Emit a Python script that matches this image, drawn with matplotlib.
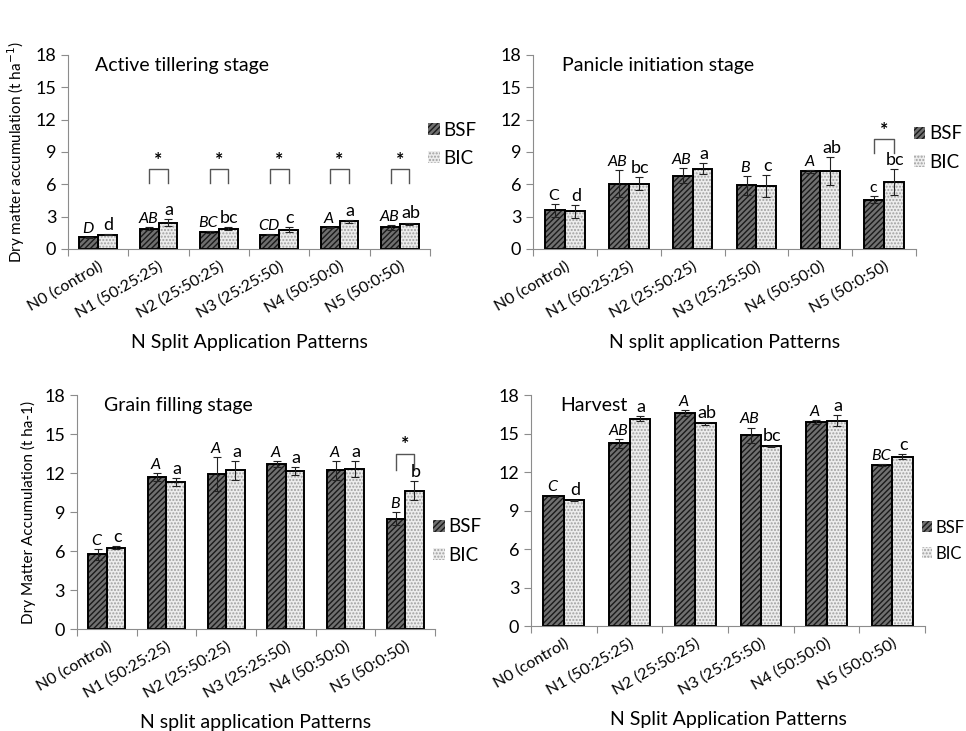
import numpy as np
import matplotlib
matplotlib.use("Agg")
import matplotlib.pyplot as plt
from matplotlib.ticker import FixedLocator, NullFormatter

plt.rcParams['font.family'] = ['Lato', 'DejaVu Sans']

patterns = ['N0 (control)', 'N1 (50:25:25)', 'N2 (25:50:25)',
            'N3 (25:25:50)', 'N4 (50:50:0)', 'N5 (50:0:50)']

# Active tillering stage
at_bsf = [1.08, 1.90, 1.57, 1.33, 2.00, 2.00]
at_bsf_err = [0.05, 0.10, 0.08, 0.05, 0.05, 0.25]
at_bic = [1.33, 2.45, 1.90, 1.80, 2.55, 2.35]
at_bic_err = [0.05, 0.30, 0.15, 0.20, 0.10, 0.10]
at_bsf_let = ['D', 'AB', 'BC', 'CD', 'A', 'AB']
at_bic_let = ['d', 'a', 'bc', 'c', 'a', 'ab']
at_sig = [None, 6.1, 6.1, 6.1, 6.1, 6.1]

# Panicle initiation stage
pi_bsf = [3.58, 6.05, 6.80, 5.90, 7.20, 4.57]
pi_bsf_err = [0.60, 1.25, 0.70, 0.85, 0.15, 0.30]
pi_bic = [3.50, 6.05, 7.45, 5.85, 7.20, 6.20]
pi_bic_err = [0.60, 0.60, 0.50, 1.00, 1.30, 1.20]
pi_bsf_let = ['C', 'AB', 'AB', 'B', 'A', 'c']
pi_bic_let = ['d', 'bc', 'a', 'c', 'ab', 'bc']
pi_sig = [None, None, None, None, None, 8.9]

# Grain filling stage
gf_bsf = [5.74, 11.70, 11.90, 12.70, 12.20, 8.50]
gf_bsf_err = [0.40, 0.30, 1.30, 0.20, 0.70, 0.50]
gf_bic = [6.26, 11.28, 12.20, 12.15, 12.30, 10.65]
gf_bic_err = [0.10, 0.30, 0.70, 0.30, 0.60, 0.70]
gf_bsf_let = ['C', 'A', 'A', 'A', 'A', 'B']
gf_bic_let = ['c', 'a', 'a', 'a', 'a', 'b']
gf_sig = [None, None, None, None, None, 12.2]

# Harvest
hv_bsf = [10.10, 14.23, 16.60, 14.85, 15.90, 12.54]
hv_bsf_err = [0.05, 0.35, 0.20, 0.60, 0.15, 0.05]
hv_bic = [9.80, 16.15, 15.80, 14.00, 16.00, 13.20]
hv_bic_err = [0.05, 0.20, 0.10, 0.05, 0.45, 0.20]
hv_bsf_let = ['C', 'AB', 'A', 'AB', 'A', 'BC']
hv_bic_let = ['d', 'a', 'ab', 'bc', 'a', 'c']
hv_sig = [None, None, None, None, None, None]

panels = [
    dict(pos=[0.0704, 0.6594, 0.3748, 0.2654], title='Active tillering stage',
         ylabel='Dry matter accumulation (t ha$^{-1}$)',
         xlabel='N Split Application Patterns', leg_y=0.54, leg_fs=13.5,
         bsf=at_bsf, bsf_err=at_bsf_err, bic=at_bic, bic_err=at_bic_err,
         bsf_let=at_bsf_let, bic_let=at_bic_let, sig=at_sig,
         upright=[]),
    dict(pos=[0.5518, 0.6594, 0.3965, 0.2654], title='Panicle initiation stage',
         ylabel=None, xlabel='N split application Patterns', leg_y=0.52,
         leg_fs=13.5,
         bsf=pi_bsf, bsf_err=pi_bsf_err, bic=pi_bic, bic_err=pi_bic_err,
         bsf_let=pi_bsf_let, bic_let=pi_bic_let, sig=pi_sig,
         upright=[0, 5]),
    dict(pos=[0.0797, 0.1395, 0.3706, 0.3201], title='Grain filling stage',
         ylabel='Dry Matter Accumulation (t ha-1)',
         xlabel='N split application Patterns', leg_y=0.376, leg_fs=13.5,
         bsf=gf_bsf, bsf_err=gf_bsf_err, bic=gf_bic, bic_err=gf_bic_err,
         bsf_let=gf_bsf_let, bic_let=gf_bic_let, sig=gf_sig,
         upright=[]),
    dict(pos=[0.5497, 0.1436, 0.4079, 0.3160], title='Harvest',
         ylabel=None, xlabel='N Split Application Patterns', leg_y=0.37,
         leg_fs=12,
         bsf=hv_bsf, bsf_err=hv_bsf_err, bic=hv_bic, bic_err=hv_bic_err,
         bsf_let=hv_bsf_let, bic_let=hv_bic_let, sig=hv_sig,
         upright=[]),
]

fig = plt.figure(figsize=(9.66, 7.31), dpi=100)
x = np.arange(len(patterns))
w = 0.31
axis_grey = '#8c8c8c'

for p in panels:
    ax = fig.add_axes(p['pos'])
    xb = x - w / 2
    xc = x + w / 2

    # fills with hatching, then black outlines on top
    ax.bar(xb, p['bsf'], w, color='#707070', edgecolor='#1a1a1a',
           hatch='//////', linewidth=0, label='BSF')
    ax.bar(xc, p['bic'], w, color='#ededed', edgecolor='#a0a0a0',
           hatch='.....', linewidth=0, label='BIC')
    ax.bar(xb, p['bsf'], w, fill=False, edgecolor='black', linewidth=1.4)
    ax.bar(xc, p['bic'], w, fill=False, edgecolor='black', linewidth=1.4)
    ax.errorbar(xb, p['bsf'], yerr=p['bsf_err'], fmt='none', ecolor='#222222',
                elinewidth=0.8, capsize=3, capthick=0.8)
    ax.errorbar(xc, p['bic'], yerr=p['bic_err'], fmt='none', ecolor='#222222',
                elinewidth=0.8, capsize=3, capthick=0.8)

    for i in range(len(patterns)):
        style = 'normal' if i in p['upright'] else 'italic'
        ax.text(xb[i] - 0.02, p['bsf'][i] + p['bsf_err'][i] + 0.1, p['bsf_let'][i],
                ha='center', va='bottom', fontsize=11.5, style=style)
        ax.text(xc[i] + 0.02, p['bic'][i] + p['bic_err'][i] + 0.1, p['bic_let'][i],
                ha='center', va='bottom', fontsize=13)
        s = p['sig'][i]
        if s is not None:
            ax.plot([xb[i], xb[i], xc[i], xc[i]], [s, s + 1.3, s + 1.3, s],
                    color='#555555', linewidth=1.0)
            ax.text(x[i], s + 1.35, '*', ha='center', va='bottom', fontsize=14,
                    fontweight='bold')

    ax.set_xlim(-0.5, len(patterns) - 0.5)
    ax.set_ylim(0, 18)
    ax.set_yticks(np.arange(0, 19, 3))
    ax.set_xticks(x)
    ax.set_xticklabels(patterns, rotation=30, ha='right', rotation_mode='anchor',
                       fontsize=11.5)
    ax.xaxis.set_minor_locator(FixedLocator(np.arange(-0.5, len(patterns), 1.0)))
    ax.xaxis.set_minor_formatter(NullFormatter())
    ax.tick_params(axis='x', which='major', length=0, pad=7)
    ax.tick_params(axis='x', which='minor', length=5, color=axis_grey, width=0.8)
    ax.tick_params(axis='y', length=5, color=axis_grey, width=0.8, labelsize=13)
    for side in ['top', 'right']:
        ax.spines[side].set_visible(False)
    for side in ['left', 'bottom']:
        ax.spines[side].set_color(axis_grey)
        ax.spines[side].set_linewidth(0.8)

    ax.text(0.075, 0.99, p['title'], transform=ax.transAxes, ha='left',
            va='top', fontsize=14)
    ax.set_xlabel(p['xlabel'], fontsize=14, labelpad=10)
    if p['ylabel']:
        ax.set_ylabel(p['ylabel'], fontsize=11, labelpad=6)

    ax.legend(loc='center left', bbox_to_anchor=(0.985, p['leg_y']), frameon=False,
              fontsize=p['leg_fs'], handlelength=0.6, handleheight=0.6,
              handletextpad=0.2, labelspacing=0.6, borderaxespad=0,
              borderpad=0.2)

fig.savefig('out.png', dpi=100)
